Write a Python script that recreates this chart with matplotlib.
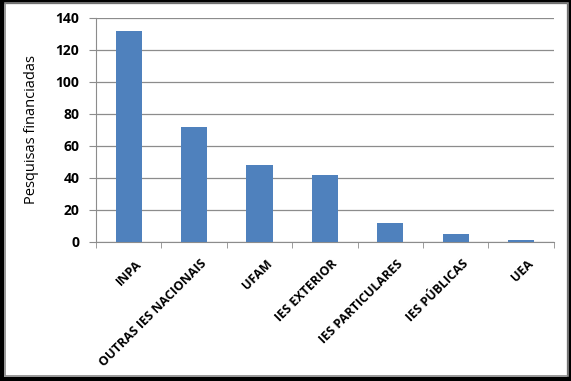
import numpy as np
import matplotlib.pyplot as plt
import matplotlib.transforms as mtransforms
from matplotlib.patches import Rectangle

categories = ['INPA', 'OUTRAS IES NACIONAIS', 'UFAM', 'IES EXTERIOR',
              'IES PARTICULARES', 'IES PÚBLICAS', 'UEA']
values = [132, 72, 48, 42, 12, 5, 1]
yticks = [0, 20, 40, 60, 80, 100, 120, 140]

plt.rcParams['font.family'] = ['Open Sans', 'DejaVu Sans']

fig = plt.figure(figsize=(5.71, 3.81), dpi=100)
fig.patch.set_facecolor('white')

# frame around the whole chart
fig.patches.append(Rectangle((0.003, 0.004), 0.994, 0.992, transform=fig.transFigure,
                             fill=False, edgecolor='black', linewidth=3))
fig.patches.append(Rectangle((0.008, 0.012), 0.986, 0.98, transform=fig.transFigure,
                             fill=False, edgecolor='#888888', linewidth=1.2))

ax = fig.add_axes([0.168, 0.365, 0.802, 0.588])
x = np.arange(len(categories))
ax.bar(x, values, width=0.4, color='#4F81BD', zorder=3)

ax.set_xlim(-0.5, len(categories) - 0.5)
ax.set_ylim(0, 140)
ax.set_yticks(yticks)
ax.set_yticklabels([str(v) for v in yticks], fontsize=10, fontweight='bold')
ax.yaxis.grid(True, color='#8c8c8c', linewidth=0.9, zorder=0)

ax.set_xticks(x)
ax.set_xticklabels(categories, rotation=45, ha='right', rotation_mode='anchor',
                   fontsize=9, fontweight='bold')
ax.tick_params(axis='x', which='major', length=0, pad=11)
# shift the rotated labels a little to the right, like the original
shift = mtransforms.ScaledTranslation(6 / 100, 0, fig.dpi_scale_trans)
for lbl in ax.get_xticklabels():
    lbl.set_transform(lbl.get_transform() + shift)
ax.set_xticks(np.arange(-0.5, len(categories)), minor=True)
ax.tick_params(axis='x', which='minor', length=4, color='#8c8c8c')
ax.tick_params(axis='y', length=5, color='#8c8c8c', pad=7)

for s in ['top', 'right']:
    ax.spines[s].set_visible(False)
for s in ['left', 'bottom']:
    ax.spines[s].set_color('#8c8c8c')

ax.set_ylabel('Pesquisas financiadas', fontsize=10.5, labelpad=12)

fig.savefig('out.png', dpi=100)
